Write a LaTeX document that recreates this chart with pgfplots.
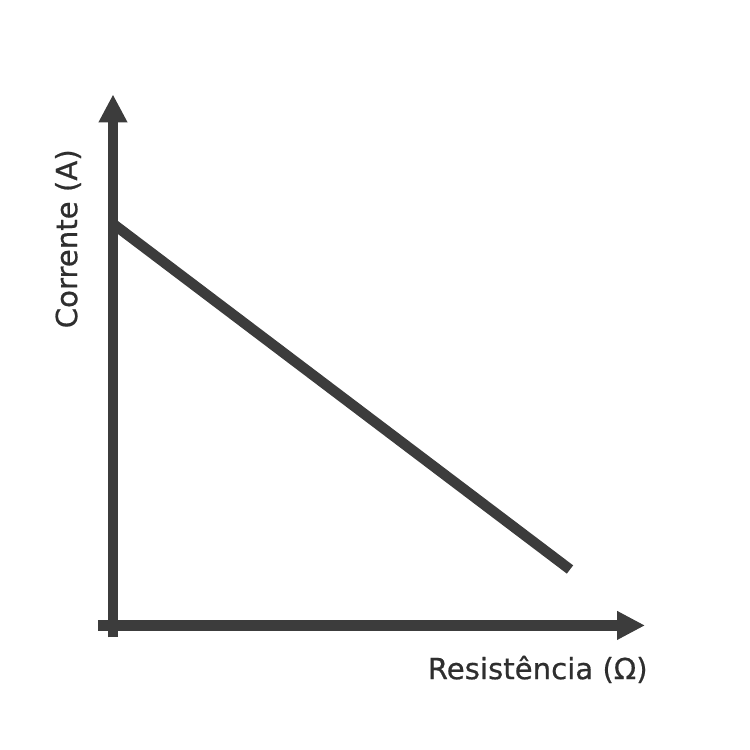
\documentclass[border=0pt]{standalone}
\usepackage{pgfplots}
\pgfplotsset{compat=1.18}
\usepackage{fontspec}
\setmainfont{DejaVu Sans}
\newfontfamily\labfont{DejaVu Sans}[FakeBold=0.6]
\usetikzlibrary{arrows.meta}
\definecolor{ink}{HTML}{3C3C3C}
\definecolor{txt}{HTML}{2E2E2E}
\begin{document}
\begin{tikzpicture}
\begin{axis}[
  scale only axis,
  width=273.5pt, height=271.5pt,
  xmin=-15, xmax=532, ymin=-12, ymax=531.5,
  axis lines=middle,
  axis line style={ink, line width=5.2pt, -{Triangle[length=14pt,width=13.5pt]}},
  xtick=\empty, ytick=\empty,
  clip=false,
  xlabel={Resistência (Ω)},
  ylabel={Corrente (A)},
  label style={font=\labfont\fontsize{14.6pt}{17pt}\selectfont, text=txt, inner sep=0pt},
  xlabel style={at={(axis cs:535,-44)}, anchor=east},
  ylabel style={at={(axis cs:-45,387)}, anchor=center, rotate=90},
]
\addplot[ink, line width=5.2pt, line cap=butt] coordinates {(0,402) (457,56)};
\path (axis cs:-113,-124) rectangle (axis cs:637,626);
\end{axis}
\end{tikzpicture}
\end{document}
